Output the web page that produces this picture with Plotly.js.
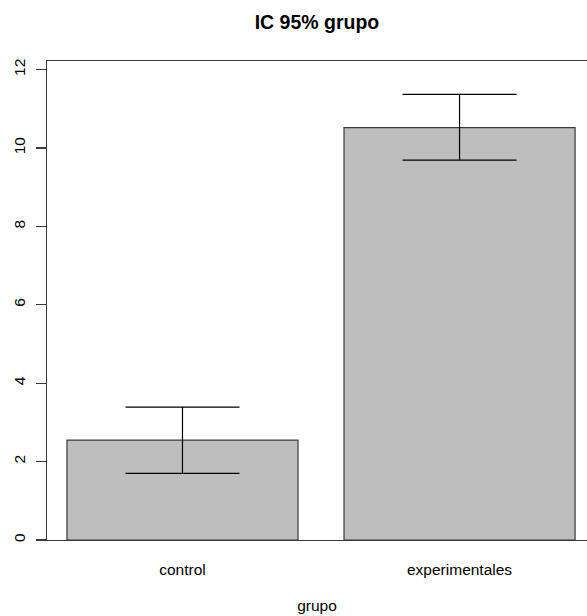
<!DOCTYPE html>
<html>
<head>
<meta charset="utf-8">
<script src="https://cdn.plot.ly/plotly-3.0.1.min.js"></script>
<style>
html,body{margin:0;padding:0;background:#fff;overflow:hidden;}
#chart{width:587px;height:616px;}
</style>
</head>
<body>
<div id="chart"></div>
<script>
var categories = ["control", "experimentales"];
var means = [2.55, 10.52];
var lowerCI = [1.70, 9.69];
var upperCI = [3.39, 11.37];
var yTicks = [0, 2, 4, 6, 8, 10, 12];

var errPlus = means.map(function(m, i){ return upperCI[i] - m; });
var errMinus = means.map(function(m, i){ return m - lowerCI[i]; });

var trace = {
  type: "bar",
  x: categories,
  y: means,
  marker: {color: "#BEBEBE", line: {color: "#3a3a3a", width: 1.2}},
  error_y: {
    type: "data",
    symmetric: false,
    array: errPlus,
    arrayminus: errMinus,
    color: "#000000",
    thickness: 1.2,
    width: 57
  },
  hoverinfo: "none"
};

var layout = {
  width: 587,
  height: 616,
  margin: {l: 47, r: 0, t: 61, b: 76, pad: 0},
  paper_bgcolor: "#ffffff",
  plot_bgcolor: "#ffffff",
  bargap: 0.166,
  showlegend: false,
  font: {family: "Liberation Sans, Arial, sans-serif", size: 15.5, color: "#000"},
  title: {
    text: "<b>IC 95% grupo</b>",
    font: {family: "Liberation Sans, Arial, sans-serif", size: 19.5, color: "#000"},
    x: 0.5, xref: "paper", xanchor: "center",
    y: 1 - 22/616, yref: "container", yanchor: "middle"
  },
  xaxis: {
    type: "category",
    range: [-0.489, 1.46],
    showline: true,
    linecolor: "#3a3a3a",
    linewidth: 1.2,
    mirror: true,
    ticks: "",
    showgrid: false,
    zeroline: false,
    ticklabelstandoff: 15,
    tickfont: {size: 15.5, color: "#000"},
    title: {text: "grupo", font: {size: 15.5, color: "#000"}, standoff: 23}
  },
  yaxis: {
    range: [0, 12.22],
    tickvals: yTicks,
    ticktext: yTicks.map(String),
    tickangle: -90,
    ticks: "outside",
    ticklen: 10,
    tickcolor: "#3a3a3a",
    tickwidth: 1.2,
    showline: true,
    linecolor: "#3a3a3a",
    linewidth: 1.2,
    showgrid: false,
    zeroline: false,
    ticklabelstandoff: 5,
    tickfont: {size: 15.5, color: "#000"}
  }
};

Plotly.newPlot("chart", [trace], layout, {displayModeBar: false, staticPlot: true});
</script>
</body>
</html>
